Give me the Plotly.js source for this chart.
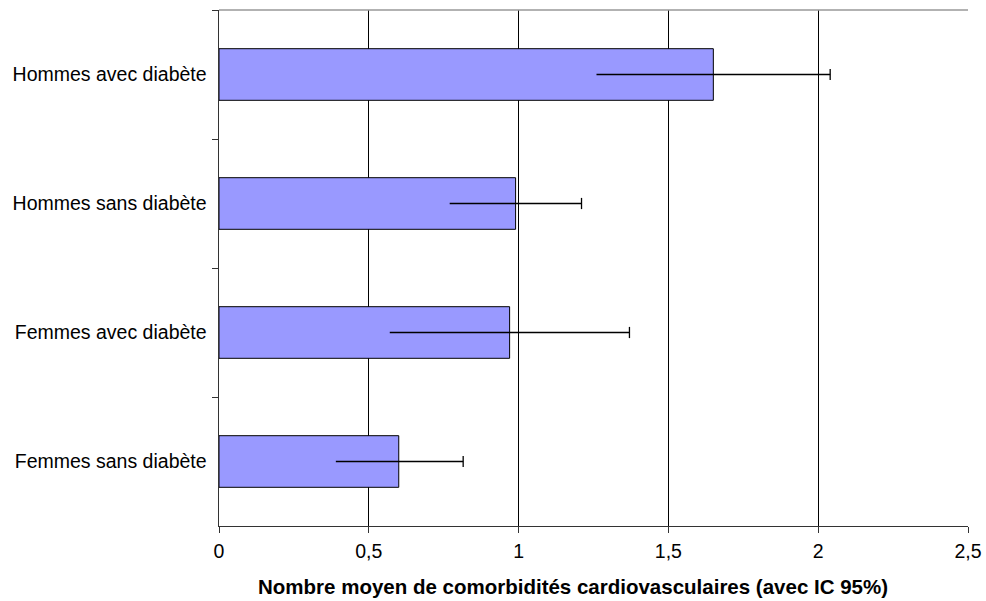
<!DOCTYPE html>
<html><head><meta charset="utf-8">
<script src="https://cdn.plot.ly/plotly-3.0.1.min.js"></script>
<style>body{margin:0;padding:0;background:#fff}#chart{width:986px;height:601px}</style>
</head><body><div id="chart"></div>
<script>
const categories = ["Hommes avec diabète", "Hommes sans diabète", "Femmes avec diabète", "Femmes sans diabète"];
const means = [1.65, 0.99, 0.97, 0.60];
const ciLow = [1.26, 0.77, 0.57, 0.39];
const ciHigh = [2.04, 1.21, 1.37, 0.815];
const xTickVals = [0, 0.5, 1, 1.5, 2, 2.5];
const xTickText = ["0", "0,5", "1", "1,5", "2", "2,5"];
const xTitle = "Nombre moyen de comorbidités cardiovasculaires (avec IC 95%)";

const lineX = [], lineY = [];
categories.forEach((c, i) => { lineX.push(ciLow[i], ciHigh[i], null); lineY.push(c, c, null); });

const traces = [
  {type: 'bar', orientation: 'h', y: categories, x: means, width: 0.4,
   marker: {color: '#9999FF', line: {color: '#000000', width: 1}}, hoverinfo: 'x+y'},
  {type: 'scatter', mode: 'lines', x: lineX, y: lineY,
   line: {color: '#000000', width: 1.3}, hoverinfo: 'skip'},
  {type: 'scatter', mode: 'markers', x: ciHigh, y: categories,
   marker: {symbol: 'line-ns', size: 8, line: {color: '#000000', width: 1.3}}, hoverinfo: 'x'}
];

const layout = {
  width: 986, height: 601,
  margin: {l: 219, r: 18, t: 10, b: 75},
  paper_bgcolor: '#ffffff', plot_bgcolor: '#ffffff',
  showlegend: false,
  font: {family: 'Liberation Sans, Arial, sans-serif', size: 19.5, color: '#000000'},
  xaxis: {
    range: [0, 2.5], tickvals: xTickVals, ticktext: xTickText,
    showgrid: true, gridcolor: '#000000', gridwidth: 1,
    zeroline: false, showline: true, linecolor: '#333333', linewidth: 1,
    ticks: 'outside', ticklen: 6, tickcolor: '#333333',
    tickfont: {size: 19.5}, ticklabelstandoff: 2, fixedrange: true
  },
  yaxis: {
    type: 'category', categoryorder: 'array', categoryarray: categories,
    autorange: 'reversed',
    showgrid: false, zeroline: false, showline: true, linecolor: '#333333', linewidth: 1.5,
    ticks: 'outside', tickson: 'boundaries', ticklen: 6, tickcolor: '#333333',
    tickfont: {size: 19.5}, ticklabelstandoff: 7
  },
  annotations: [
    {text: '<b>' + xTitle + '</b>', xref: 'paper', yref: 'paper', x: 0.4726, y: -0.1182,
     xanchor: 'center', yanchor: 'middle', showarrow: false, font: {size: 20.5}}
  ],
  shapes: [
    {type: 'line', xref: 'paper', yref: 'paper', x0: 0, x1: 1, y0: 1, y1: 1,
     line: {color: '#999999', width: 1.5}}
  ]
};
Plotly.newPlot('chart', traces, layout, {displayModeBar: false, staticPlot: true});
</script></body></html>
